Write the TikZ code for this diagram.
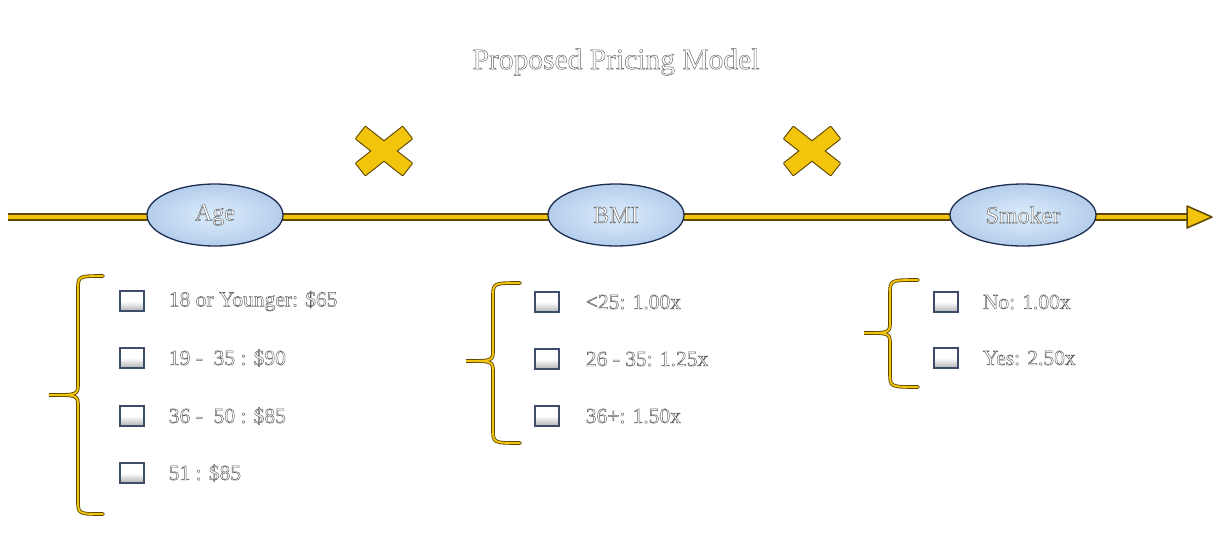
\documentclass[tikz,border=0pt]{standalone}
\usepackage{fontspec}
\setmainfont{Liberation Serif}
\usetikzlibrary{positioning,shapes.geometric}

\definecolor{gold}{HTML}{F2C40C}
\definecolor{golddark}{HTML}{5E4700}
\definecolor{pale}{HTML}{DCEEFD}
\definecolor{paleedge}{HTML}{B4CDEB}
\definecolor{navy}{HTML}{1E2D52}
\definecolor{boxedge}{HTML}{3E4C6C}

% white letters with a thin grey rim
\newcommand\outl[1]{\special{pdf:literal direct 2 Tr 0.45 w 0.38 G}#1\special{pdf:literal direct 0 Tr}}

% curly bracket: end x, spine x, tip x, top y, middle y, bottom y
\newcommand\gbrace[6]{%
  \draw[line width=3.6pt, golddark, line cap=round]
    (#1,#4) .. controls (#2,#4) .. (#2,#4+14) -- (#2,#5-12)
    .. controls (#2,#5) .. (#3,#5) .. controls (#2,#5) .. (#2,#5+12)
    -- (#2,#6-14) .. controls (#2,#6) .. (#1,#6);
  \draw[line width=1.9pt, gold, line cap=round]
    (#1,#4) .. controls (#2,#4) .. (#2,#4+14) -- (#2,#5-12)
    .. controls (#2,#5) .. (#3,#5) .. controls (#2,#5) .. (#2,#5+12)
    -- (#2,#6-14) .. controls (#2,#6) .. (#1,#6);}

% gold cross
\newcommand\gcross[2]{%
  \begin{scope}[shift={(#1,#2)}]
    \foreach \a in {38,-38}
      \draw[golddark, line width=2.2pt, line join=round, rotate=\a] (-29.5,-7.5) rectangle (29.5,7.5);
    \foreach \a in {38,-38}
      \fill[gold, rotate=\a] (-29.5,-7.5) rectangle (29.5,7.5);
  \end{scope}}

\begin{document}
\begin{tikzpicture}[x=1pt, y=-1pt,
    factor/.style={ellipse, draw=navy, line width=1.3pt, inner color=pale, outer color=paleedge,
      minimum width=136pt, minimum height=62pt, inner sep=0pt, text=white,
      font=\fontsize{24}{28}\selectfont},
    tick/.style={rectangle, draw=boxedge, line width=1.3pt, top color=white, bottom color=black!30,
      middle color=white, minimum width=24pt, minimum height=20pt, inner sep=0pt},
    item/.style={text=white, inner sep=1pt, font=\fontsize{21.5}{25}\selectfont},
    axis/.style={line width=8pt, golddark},
    axisin/.style={line width=4.6pt, gold}]

  \useasboundingbox (0,0) rectangle (1220,542);

  \node[text=white, font=\fontsize{29.5}{33}\selectfont] (title) at (616,62) {\outl{Proposed Pricing Model}};

  % axis
  \coordinate (start) at (8,217);
  \coordinate (stop) at (1190,217);
  \draw[axis] (start) -- (stop);
  \draw[axisin] (start) -- (stop);
  \filldraw[gold, draw=golddark, line width=1.5pt, line join=round] (1187,206) -- (1212,217) -- (1187,228) -- cycle;

  \node[factor] (age) at (215,215) {\outl{Age}};
  \node[factor] (bmi) at (616,215) {\outl{BMI}};
  \node[factor, minimum width=146pt] (smoker) at (1023,215) {\outl{Smoker}};

  \gcross{384}{151}
  \gcross{812}{151}

  % age
  \gbrace{103}{78}{49}{276}{395}{514}
  \node[tick] (a1) at (132,301) {};
  \node[tick] (a2) at (132,358) {};
  \node[tick] (a3) at (132,416) {};
  \node[tick] (a4) at (132,473) {};
  \node[item, right=23pt of a1] {\outl{18 or Younger: \$65}};
  \node[item, right=23pt of a2] {\outl{19 - \ 35 : \$90}};
  \node[item, right=23pt of a3] {\outl{36 - \ 50 : \$85}};
  \node[item, right=23pt of a4] {\outl{51 : \$85}};

  % bmi
  \gbrace{520}{493}{466}{283}{361}{443}
  \node[tick] (b1) at (547,302) {};
  \node[tick] (b2) at (547,359) {};
  \node[tick] (b3) at (547,416) {};
  \node[item, right=25pt of b1] {\outl{<25: 1.00x}};
  \node[item, right=25pt of b2] {\outl{26 - 35: 1.25x}};
  \node[item, right=25pt of b3] {\outl{36+: 1.50x}};

  % smoker
  \gbrace{918}{890}{864}{280}{333}{387}
  \node[tick] (s1) at (946,302) {};
  \node[tick] (s2) at (946,358) {};
  \node[item, right=23pt of s1] {\outl{No: 1.00x}};
  \node[item, right=23pt of s2] {\outl{Yes: 2.50x}};

\end{tikzpicture}
\end{document}
